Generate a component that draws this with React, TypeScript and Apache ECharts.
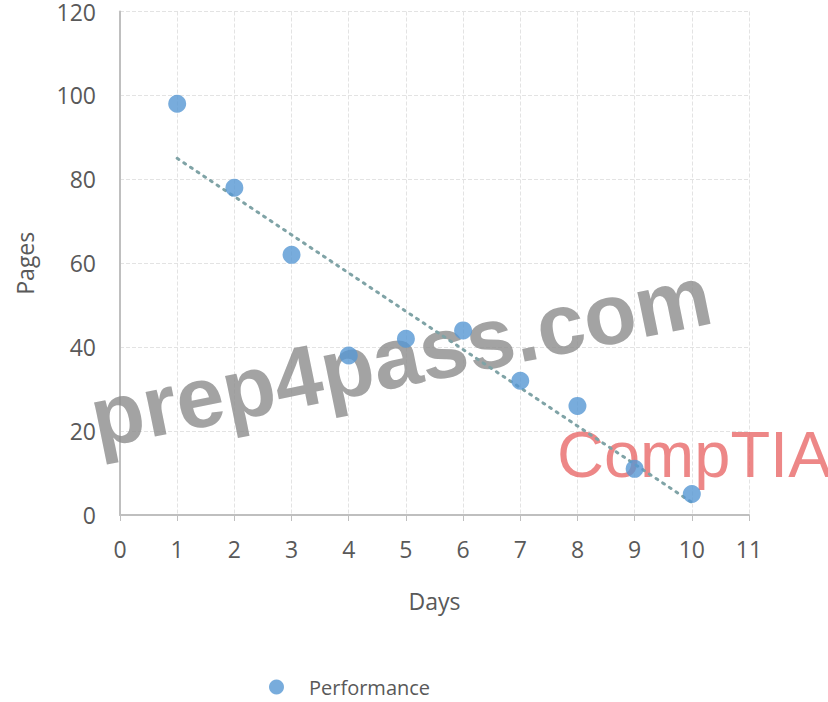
import React, { useEffect, useRef } from "react";
import * as echarts from "echarts";

const days = [1, 2, 3, 4, 5, 6, 7, 8, 9, 10];
const pages = [98, 78, 62, 38, 42, 44, 32, 26, 11, 5];
const trendX = [1, 10];
const trendY = [85, 3];
const seriesName = "Performance";
const xTitle = "Days";
const yTitle = "Pages";

export default function App() {
  const ref = useRef<HTMLDivElement>(null);
  useEffect(() => {
    if (!ref.current) return;
    const chart = echarts.init(ref.current, null, { renderer: "svg" });
    const font = "Open Sans";
    chart.setOption({
      animation: false,
      backgroundColor: "#ffffff",
      textStyle: { fontFamily: font },
      grid: { left: 120, right: 79, top: 9, height: 506 },
      xAxis: {
        type: "value",
        min: 0,
        max: 11,
        interval: 1,
        name: xTitle,
        nameLocation: "middle",
        nameGap: 74,
        nameTextStyle: { color: "#595959", fontSize: 23, fontFamily: font },
        axisLine: { show: true, onZero: false, lineStyle: { color: "#bfbfbf", width: 2 } },
        axisTick: { show: true, length: 6, lineStyle: { color: "#bfbfbf" } },
        axisLabel: { color: "#595959", fontSize: 23, margin: 22 },
        splitLine: { show: true, lineStyle: { color: "#e3e3e3", type: "dashed" } },
      },
      yAxis: {
        type: "value",
        min: 0,
        max: 120,
        interval: 20,
        name: yTitle,
        nameLocation: "middle",
        nameGap: 84,
        nameRotate: 90,
        nameTextStyle: { color: "#595959", fontSize: 23, fontFamily: font },
        axisLine: { show: true, lineStyle: { color: "#bfbfbf", width: 2 } },
        axisTick: { show: false },
        axisLabel: { color: "#595959", fontSize: 23, margin: 24 },
        splitLine: { show: true, lineStyle: { color: "#e3e3e3", type: "dashed" } },
      },
      legend: {
        bottom: 0,
        left: 264,
        data: [{ name: seriesName, icon: "circle" }],
        itemWidth: 15,
        itemHeight: 15,
        itemGap: 10,
        textStyle: { color: "#595959", fontSize: 20, padding: [0, 0, 0, 20] },
      },
      series: [
        {
          name: "trend",
          type: "line",
          data: trendX.map((x, i) => [x, trendY[i]]),
          symbol: "none",
          lineStyle: { color: "#7fa3a6", type: [2, 6], width: 3, cap: "round" },
          z: 20,
          silent: true,
        },
        {
          name: seriesName,
          type: "scatter",
          data: days.map((d, i) => [d, pages[i]]),
          symbolSize: 18,
          itemStyle: { color: "#5697d3" },
          z: 21,
        },
      ],
      graphic: [
        {
          type: "text",
          x: 100,
          y: 461,
          rotation: (11.5 * Math.PI) / 180,
          z: 1,
          style: {
            text: "prep4pass.com",
            fill: "rgba(140,140,140,0.8)",
            font: "bold 86px 'Liberation Sans'",
            textVerticalAlign: "bottom",
          },
        },
        {
          type: "text",
          x: 557,
          y: 487,
          z: 1,
          style: {
            text: "CompTIA",
            fill: "rgba(232,105,105,0.8)",
            font: "65px 'Liberation Sans'",
            textVerticalAlign: "bottom",
          },
        },
      ],
    });
    return () => chart.dispose();
  }, []);
  return <div ref={ref} style={{ width: 828, height: 702, position: "absolute", left: 0, top: 0 }} />;
}
